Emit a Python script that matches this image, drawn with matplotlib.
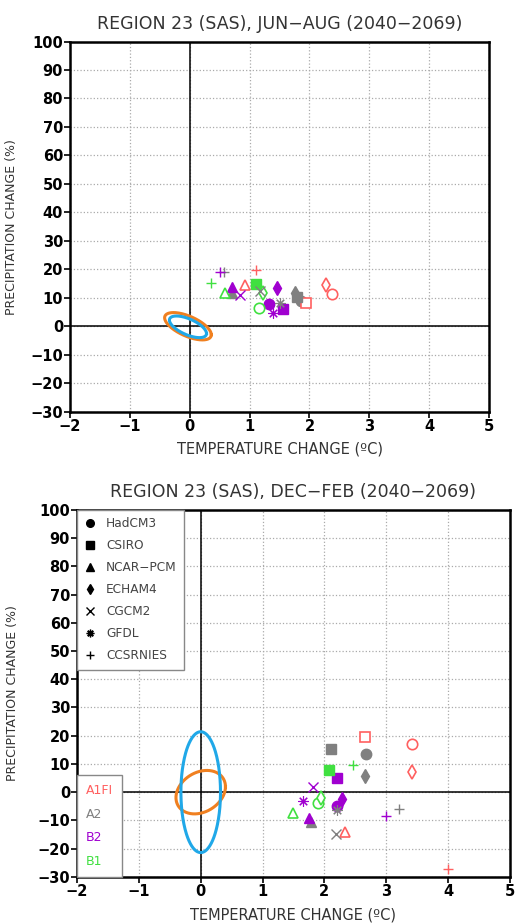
import matplotlib.pyplot as plt
import numpy as np
from matplotlib.lines import Line2D

plt.rcParams['font.family'] = 'DejaVu Sans'

# scenario colours
scen_names = ['A1FI', 'A2', 'B2', 'B1']
scen_colors = {'A1FI': '#ff6060', 'A2': '#808080', 'B2': '#a000d0', 'B1': '#40e040'}

# model markers
model_names = ['HadCM3', 'CSIRO', 'NCAR-PCM', 'ECHAM4', 'CGCM2', 'GFDL', 'CCSRNIES']
model_markers = {'HadCM3': 'o', 'CSIRO': 's', 'NCAR-PCM': '^', 'ECHAM4': 'd',
                 'CGCM2': 'x', 'GFDL': (8, 2, 0), 'CCSRNIES': '+'}
legend_labels = ['HadCM3', 'CSIRO', 'NCAR\u2212PCM', 'ECHAM4', 'CGCM2', 'GFDL', 'CCSRNIES']

# ---- JUN-AUG data ----
jja_model = ['HadCM3', 'HadCM3', 'HadCM3', 'HadCM3',
             'CSIRO', 'CSIRO', 'CSIRO', 'CSIRO',
             'NCAR-PCM', 'NCAR-PCM', 'NCAR-PCM', 'NCAR-PCM',
             'ECHAM4', 'ECHAM4', 'ECHAM4', 'ECHAM4',
             'CGCM2', 'CGCM2',
             'GFDL', 'GFDL',
             'CCSRNIES', 'CCSRNIES', 'CCSRNIES', 'CCSRNIES']
jja_scen = ['A1FI', 'A2', 'B2', 'B1',
            'A1FI', 'A2', 'B2', 'B1',
            'A1FI', 'A2', 'B2', 'B1',
            'A1FI', 'A2', 'B2', 'B1',
            'A2', 'B2',
            'A2', 'B2',
            'A1FI', 'A2', 'B2', 'B1']
jja_dt = [2.38, 1.86, 1.33, 1.15,
          1.94, 1.80, 1.56, 1.11,
          0.93, 0.70, 0.70, 0.59,
          2.27, 1.75, 1.46, 1.23,
          1.17, 0.84,
          1.50, 1.39,
          1.11, 0.58, 0.50, 0.35]
jja_dp = [11.5, 9.0, 7.7, 6.5,
          8.1, 10.3, 6.1, 14.8,
          14.5, 11.6, 13.7, 11.6,
          14.5, 11.6, 13.4, 11.6,
          12.5, 11.0,
          8.0, 4.5,
          19.7, 18.9, 18.9, 15.1]

# ---- DEC-FEB data ----
djf_model = ['HadCM3', 'HadCM3', 'HadCM3', 'HadCM3',
             'CSIRO', 'CSIRO', 'CSIRO', 'CSIRO',
             'NCAR-PCM', 'NCAR-PCM', 'NCAR-PCM', 'NCAR-PCM',
             'ECHAM4', 'ECHAM4', 'ECHAM4', 'ECHAM4',
             'CGCM2', 'CGCM2',
             'GFDL', 'GFDL',
             'CCSRNIES', 'CCSRNIES', 'CCSRNIES', 'CCSRNIES']
djf_scen = ['A1FI', 'A2', 'B2', 'B1',
            'A1FI', 'A2', 'B2', 'B1',
            'A1FI', 'A2', 'B2', 'B1',
            'A1FI', 'A2', 'B2', 'B1',
            'A2', 'B2',
            'A2', 'B2',
            'A1FI', 'A2', 'B2', 'B1']
djf_dt = [3.42, 2.67, 2.21, 1.89,
          2.66, 2.11, 2.21, 2.08,
          2.34, 1.79, 1.75, 1.49,
          3.42, 2.66, 2.29, 1.94,
          2.18, 1.81,
          2.21, 1.65,
          4.00, 3.20, 3.00, 2.46]
djf_dp = [17.0, 13.4, -4.9, -3.9,
          19.4, 15.4, 5.0, 7.7,
          -14.1, -10.7, -9.1, -7.5,
          7.2, 5.9, -2.5, -1.9,
          -14.7, 2.0,
          -6.3, -3.3,
          -27.3, -6.1, -8.4, 9.5]

# natural variability ellipses: centre x, centre y, half-range x, half-range y, correlation
jja_ell_orange = [-0.03, 0.0, 0.39, 4.8, -0.62]
jja_ell_blue = [-0.03, -0.2, 0.31, 3.8, -0.62]
djf_ell_orange = [0.0, 0.0, 0.40, 7.7, 0.25]
djf_ell_blue = [0.0, 0.0, 0.32, 21.4, 0.0]


def ellipse(p):
    cx, cy, ax_, ay_, rho = p
    t = np.linspace(0, 2 * np.pi, 300)
    return cx + ax_ * np.cos(t), cy + ay_ * np.cos(t - np.arccos(rho))


def is_open(model, scen):
    if scen == 'A1FI':
        return True
    if scen == 'B1' and model != 'CSIRO':
        return True
    return False


def panel(ax, title, models, scens, dts, dps, ell_o, ell_b):
    ax.set_xlim(-2, 5)
    ax.set_ylim(-30, 100)
    ax.set_xticks(range(-2, 6))
    ax.set_yticks(range(-30, 101, 10))
    ax.set_xticklabels([str(v).replace('-', '\u2212') for v in range(-2, 6)])
    ax.set_yticklabels([str(v).replace('-', '\u2212') for v in range(-30, 101, 10)])
    ax.tick_params(direction='out', length=4, width=1.2, labelsize=10.5, pad=1)
    for lab in ax.get_xticklabels() + ax.get_yticklabels():
        lab.set_fontweight('bold')
    for s in ax.spines.values():
        s.set_linewidth(1.8)
    ax.grid(True, linestyle=':', color='#aaaaaa', linewidth=0.9)
    ax.set_axisbelow(True)
    ax.axhline(0, color='black', linewidth=1.1, zorder=1)
    ax.axvline(0, color='black', linewidth=1.1, zorder=1)

    xo, yo = ellipse(ell_o)
    ax.plot(xo, yo, color='#f08020', linewidth=2.2, zorder=2)
    xb, yb = ellipse(ell_b)
    ax.plot(xb, yb, color='#20a8e8', linewidth=2.2, zorder=3)

    for m, s, x, y in zip(models, scens, dts, dps):
        c = scen_colors[s]
        mk = model_markers[m]
        if m in ('CGCM2', 'CCSRNIES'):
            ax.plot(x, y, marker=mk, color=c, markersize=7, mew=1.0,
                    linestyle='none', zorder=4)
        elif m == 'GFDL':
            ax.plot(x, y, marker=mk, color=c, markersize=7.5, mew=0.8,
                    linestyle='none', zorder=4)
        elif is_open(m, s):
            ax.plot(x, y, marker=mk, markerfacecolor='white', markeredgecolor=c,
                    markersize=7.5, mew=1.2, linestyle='none', zorder=4)
        else:
            ax.plot(x, y, marker=mk, color=c, markersize=7.5,
                    linestyle='none', zorder=4)

    ax.set_title(title, fontsize=12.5, color='#333333', pad=9)
    ax.set_xlabel('TEMPERATURE CHANGE (\u00baC)', fontsize=10.5, color='#333333', labelpad=6)
    ax.set_ylabel('PRECIPITATION CHANGE (%)', fontsize=9, color='#333333', labelpad=4)


fig = plt.figure(figsize=(5.15, 9.23), dpi=100)
ax1 = fig.add_axes([0.136, 0.554, 0.8136, 0.401])
ax2 = fig.add_axes([0.1495, 0.050, 0.8408, 0.3976])

panel(ax1, 'REGION 23 (SAS), JUN\u2212AUG (2040\u22122069)',
      jja_model, jja_scen, jja_dt, jja_dp, jja_ell_orange, jja_ell_blue)
panel(ax2, 'REGION 23 (SAS), DEC\u2212FEB (2040\u22122069)',
      djf_model, djf_scen, djf_dt, djf_dp, djf_ell_orange, djf_ell_blue)
ax1.yaxis.set_label_coords(-0.125, 0.5)
ax2.yaxis.set_label_coords(-0.135, 0.5)

# model legend
handles = []
for m in model_names:
    handles.append(Line2D([], [], marker=model_markers[m], color='black',
                          linestyle='none', markersize=5.5, mew=1.0))
leg1 = ax2.legend(handles, legend_labels, loc='upper left', borderaxespad=0,
                  fontsize=8.7, labelcolor='#444444', frameon=True, fancybox=False,
                  edgecolor='#888888', framealpha=1, labelspacing=0.75,
                  handlelength=1.0, handletextpad=0.8, borderpad=0.6)
leg1.get_frame().set_linewidth(1.0)
ax2.add_artist(leg1)

# scenario legend
shandles = [Line2D([], [], linestyle='none') for _ in scen_names]
leg2 = ax2.legend(shandles, scen_names, loc='lower left', borderaxespad=0,
                  fontsize=9, labelcolor=[scen_colors[s] for s in scen_names],
                  frameon=True, fancybox=False, edgecolor='#888888', framealpha=1,
                  handlelength=0, handletextpad=0, labelspacing=0.85, borderpad=0.7)
leg2.get_frame().set_linewidth(1.0)

fig.savefig('out.png', dpi=100)
